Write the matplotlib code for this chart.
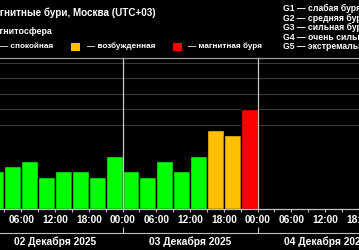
import matplotlib
matplotlib.use('Agg')
import matplotlib.pyplot as plt
from matplotlib.patches import Rectangle

# ---- data ----
bar_start_hours = list(range(0, 48, 3))          # hours from 02 Dec 00:00 (UTC+03)
kp = [2.0, 2.33, 2.67, 1.67, 2.0, 2.0, 1.67, 3.0,
      2.0, 1.67, 2.67, 2.0, 3.0, 4.67, 4.33, 6.0]
hour_tick_labels = ['00:00', '06:00', '12:00', '18:00']
date_labels = ['02 Декабря 2025', '03 Декабря 2025', '04 Декабря 2025']
level_labels = ['— спокойная', '— возбужденная', '— магнитная буря']
level_colors = ['#00ff00', '#ffc000', '#ff0000']
g_scale = ['G1 — слабая буря', 'G2 — средняя буря', 'G3 — сильная буря',
           'G4 — очень сильная буря', 'G5 — экстремальная буря']
grid_levels = [5, 6, 7, 8, 9]
title = 'Магнитные бури, Москва (UTC+03)'
subtitle = 'Магнитосфера'

plt.rcParams['font.family'] = ['Liberation Sans', 'DejaVu Sans']

W, H = 359, 250
fig = plt.figure(figsize=(W / 100, H / 100), dpi=100, facecolor='black')


def fx(px):
    return px / W


def fy(py):
    return 1 - py / H


px_per_hour = 135 / 24
x0 = 24 - 122.6 / px_per_hour
x1 = x0 + W / px_per_hour
ymin, ymax = -0.42, 9.35

ax = fig.add_axes([0, fy(209), 1, fy(57.5) - fy(209)])
ax.set_facecolor('black')

for g in grid_levels:
    ax.axhline(g, color='#3a3a3a', lw=0.8, zorder=0)


def color_for(v):
    if v < 4:
        return level_colors[0]
    if v < 5:
        return level_colors[1]
    return level_colors[2]


ax.bar(bar_start_hours, [v - ymin for v in kp], bottom=ymin, width=3,
       align='edge', color=[color_for(v) for v in kp],
       edgecolor='black', linewidth=1.0, zorder=2)

for d in (24, 48):
    ax.axvline(d, color='#c8c8c8', lw=0.9, zorder=3)

for s in ('left', 'right'):
    ax.spines[s].set_visible(False)
ax.spines['top'].set_color('#9a9a9a')
ax.spines['top'].set_linewidth(0.9)
ax.spines['bottom'].set_color('#c0c0c0')
ax.spines['bottom'].set_linewidth(0.9)
ax.set_yticks([])

ticks = list(range(3, 72, 3))
labels = [hour_tick_labels[(t % 24) // 6] if t % 6 == 0 else '' for t in ticks]
ax.set_xticks(ticks)
ax.set_xticklabels(labels)
ax.tick_params(axis='x', colors='#c0c0c0', labelcolor='white', length=2.5,
               width=0.8, labelsize=7.3, pad=2)
for lbl in ax.get_xticklabels():
    lbl.set_fontweight('bold')
ax.set_xlim(x0, x1)
ax.set_ylim(ymin, ymax)

# date row
ax2 = fig.add_axes([0, 0, 1, fy(233)])
ax2.set_facecolor('none')
for s in ('left', 'right', 'bottom'):
    ax2.spines[s].set_visible(False)
ax2.spines['top'].set_color('#c0c0c0')
ax2.spines['top'].set_linewidth(0.8)
ax2.set_yticks([])
ax2.xaxis.tick_top()
ax2.set_xticks([0, 24, 48, 72])
ax2.tick_params(axis='x', direction='out', length=4.3, width=0.8,
                colors='#c0c0c0', labeltop=False)
for i, d in enumerate(date_labels):
    ax2.text(i * 24 + 12, 0.47, d, ha='center', va='center', color='white',
             fontsize=7.4, fontweight='bold')
ax2.set_xlim(x0, x1)
ax2.set_ylim(0, 1)

# header texts
fig.text(fx(-13.8), fy(12.5), title, color='white', fontsize=7.1,
         fontweight='bold', ha='left', va='center')
fig.text(fx(-12.2), fy(32), subtitle, color='white', fontsize=6.4,
         fontweight='bold', ha='left', va='center')

sq_x = [-16, 71, 173]
txt_x = [0, 87, 188]
for c, sx, tx, lab in zip(level_colors, sq_x, txt_x, level_labels):
    fig.patches.append(Rectangle((fx(sx), fy(51)), fx(9), 8 / H,
                                 transform=fig.transFigure, facecolor=c,
                                 edgecolor='none'))
    fig.text(fx(tx), fy(46.5), lab, color='white', fontsize=5.9,
             fontweight='bold', ha='left', va='center')

g_y = [8.5, 18, 27.5, 37, 46.5]
for gy, lab in zip(g_y, g_scale):
    fig.text(fx(283), fy(gy), lab, color='white', fontsize=6.2,
             fontweight='bold', ha='left', va='center')

fig.savefig('out.png', dpi=100, facecolor='black')
